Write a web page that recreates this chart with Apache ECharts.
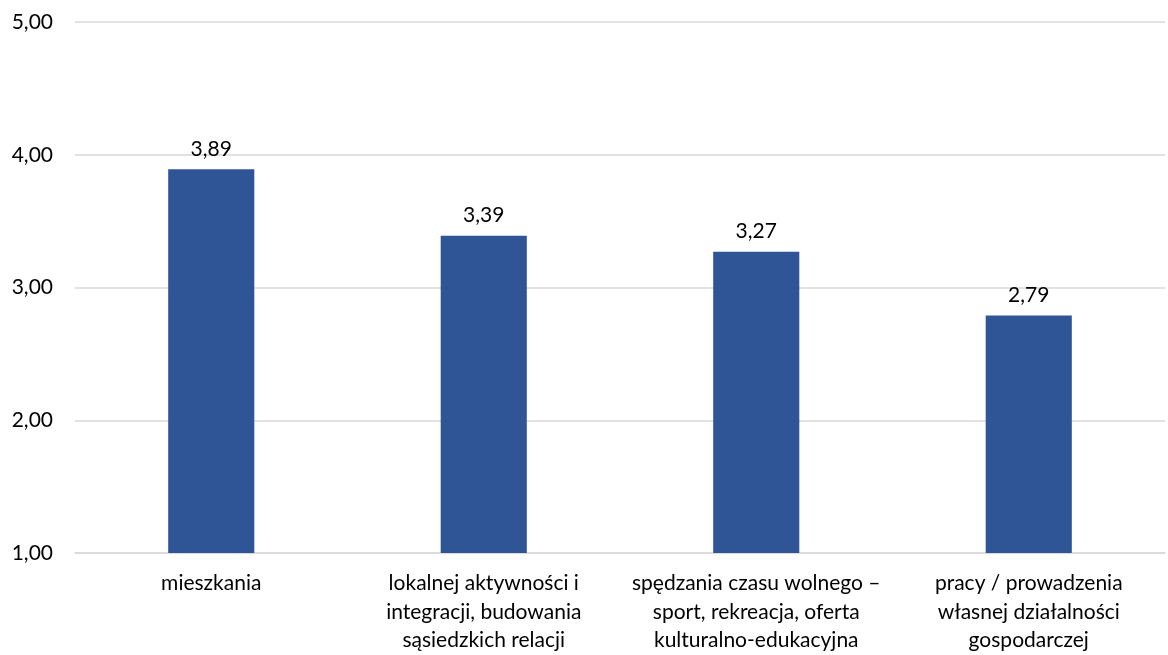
<!DOCTYPE html>
<html><head><meta charset="utf-8">
<script src="https://cdn.jsdelivr.net/npm/echarts@6/dist/echarts.min.js"></script>
<style>html,body{margin:0;padding:0;background:#fff}#c{width:1168px;height:655px}</style>
</head><body><div id="c"></div>
<script>
const categories = ['mieszkania', 'lokalnej aktywności i\nintegracji, budowania\nsąsiedzkich relacji', 'spędzania czasu wolnego –\nsport, rekreacja, oferta\nkulturalno-edukacyjna', 'pracy / prowadzenia\nwłasnej działalności\ngospodarczej'];
const values = [3.89, 3.39, 3.27, 2.79];
const yTicks = [1, 2, 3, 4, 5];
const FONT = 'Lato';
const fmt = v => v.toFixed(2).replace('.', ',');
const chart = echarts.init(document.getElementById('c'), null, {renderer: 'canvas'});
chart.setOption({
  animation: false,
  grid: {left: 75, right: 3, top: 22, bottom: 102},
  xAxis: {
    type: 'category', data: categories,
    axisLine: {show: true, lineStyle: {color: '#d9d9d9', width: 1.5}},
    axisTick: {show: false},
    axisLabel: {color: '#000', fontFamily: FONT, fontSize: 21, lineHeight: 28.5, margin: 16, interval: 0}
  },
  yAxis: {
    type: 'value', min: yTicks[0], max: yTicks[yTicks.length - 1], interval: 1,
    axisLine: {show: false}, axisTick: {show: false},
    splitLine: {lineStyle: {color: '#d9d9d9', width: 1.5}},
    axisLabel: {color: '#000', fontFamily: FONT, fontSize: 21, margin: 22, formatter: v => fmt(v)}
  },
  series: [{
    type: 'bar', data: values, barWidth: '31.6%',
    itemStyle: {color: '#2f5597'},
    label: {show: true, position: 'top', distance: 10, color: '#000', fontFamily: FONT, fontSize: 21, formatter: p => fmt(p.value)}
  }]
});
</script></body></html>
